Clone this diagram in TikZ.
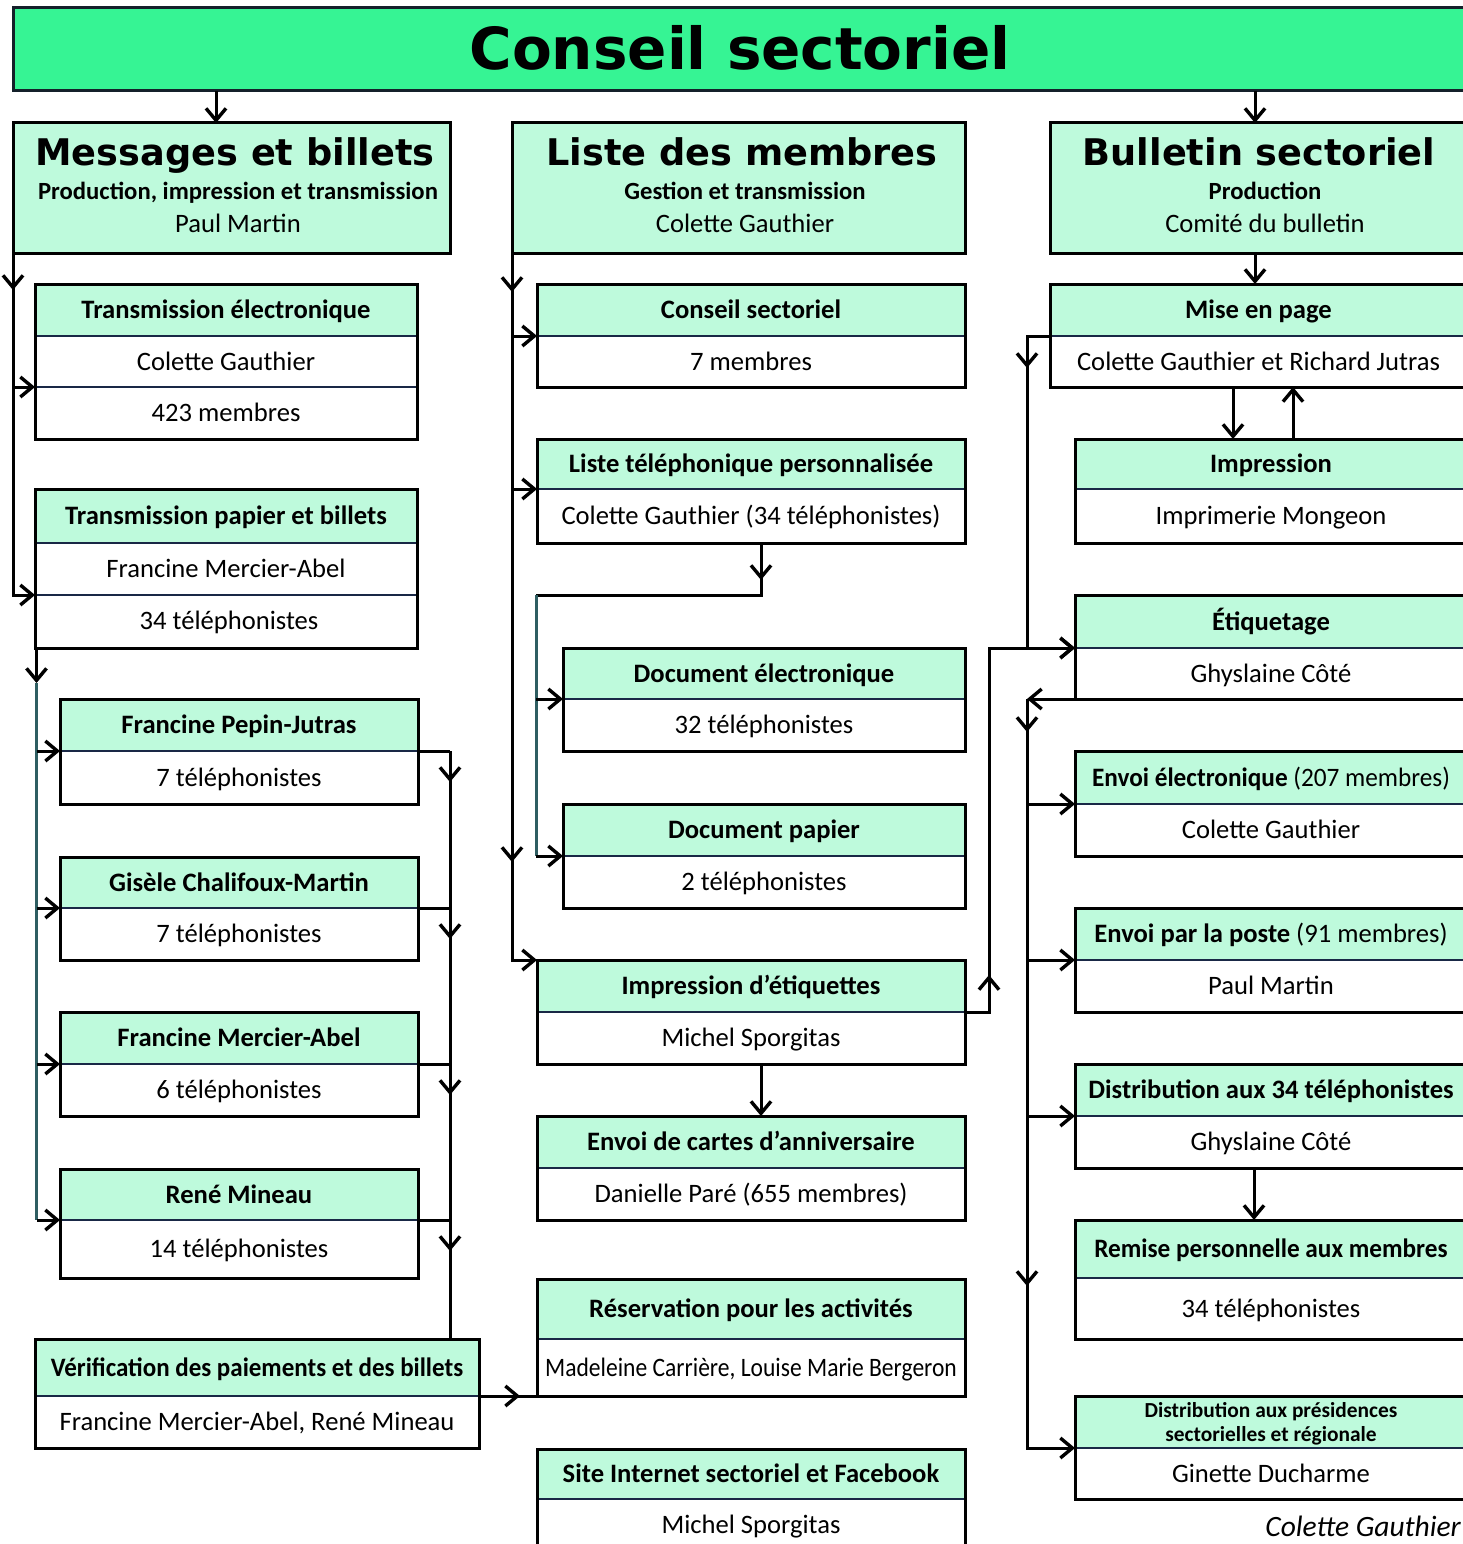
\documentclass[tikz,border=0pt]{standalone}
\usepackage{fontspec}
\setmainfont{Carlito}
\newfontfamily\verd{DejaVu Sans}
\usetikzlibrary{arrows.meta,calc}
\definecolor{mint}{RGB}{190,250,220}
\definecolor{tgreen}{RGB}{54,244,148}
\definecolor{navy}{RGB}{25,40,70}
\definecolor{tborder}{RGB}{20,32,42}
\definecolor{mteal}{RGB}{47,94,98}
\newcommand\hdfont{\fontsize{26.6}{30}\selectfont\bfseries}
\newcommand\bdfont{\fontsize{26.6}{30}\selectfont}
\tikzset{
  frame/.style={draw=black, line width=3pt, inner sep=0pt, outer sep=0pt},
  divl/.style={draw=navy, line width=1.2pt},
  hd/.style={font=\hdfont, text height=21.3pt, text depth=4.2pt, inner sep=0pt},
  bd/.style={font=\bdfont, text height=21.3pt, text depth=4.2pt, inner sep=0pt},
  sub/.style={font=\fontsize{24.7}{28}\selectfont\bfseries, text height=19.8pt, text depth=3.9pt, inner sep=0pt},
  big/.style={font=\verd\bfseries\fontsize{36.7}{40}\selectfont, text height=26.8pt, text depth=0pt, inner sep=0pt},
  ln/.style={line width=3pt},
  arr/.style={line width=3pt, -{Straight Barb[length=12pt,width=20pt,line width=3.4pt]}},
  tl/.style={draw=mteal, line width=3pt},
}
% name, x1, x2, ytop, ymid, ybot, header, body
\newcommand\mkbox[8]{%
  \fill[mint] (#2,-#4) rectangle (#3,-#5);
  \draw[divl] (#2,-#5) -- (#3,-#5);
  \node[frame, minimum width={(#3-#2)*1pt}, minimum height={(#6-#4)*1pt}, anchor=north west] (#1) at (#2,-#4) {};
  \coordinate (#1-d) at (#2,-#5);
  \coordinate (#1-dr) at (#3,-#5);
  \node[hd] (#1-h) at ({(#2+#3)/2},{-(#4+#5)/2}) {#7};
  \node[bd] (#1-b) at ({(#2+#3)/2},{-(#5+#6)/2}) {#8};
}
\begin{document}
\begin{tikzpicture}[x=1pt,y=1pt]
\useasboundingbox (0,0) rectangle (1463,-1544);
\clip (0,0) rectangle (1463,-1544);

% title
\node[draw=tborder, fill=tgreen, line width=3pt, inner sep=0pt, outer sep=0pt, minimum width=1454pt, minimum height=83pt, anchor=north west] (title) at (13,-8) {};
\node[font=\verd\bfseries\fontsize{58}{62}\selectfont, text height=42.3pt, text depth=0pt, inner sep=0pt] (titletxt) at (740,-48) {Conseil sectoriel};

% top boxes
\node[frame, fill=mint, minimum width=437pt, minimum height=130pt, anchor=north west] (msg) at (13,-123) {};
\node[big] (msg-t) at (235,-152) {Messages et billets};
\node[sub] (msg-s) at (238,-192) {Production, impression et transmission};
\node[bd] (msg-p) at (238,-224) {Paul Martin};

\node[frame, fill=mint, minimum width=453pt, minimum height=130pt, anchor=north west] (lm) at (512,-123) {};
\node[big] (lm-t) at (742,-152) {Liste des membres};
\node[sub] (lm-s) at (745,-192) {Gestion et transmission};
\node[bd] (lm-p) at (745,-224) {Colette Gauthier};

\node[frame, fill=mint, minimum width=417pt, minimum height=130pt, anchor=north west] (bs) at (1050,-123) {};
\node[big] (bs-t) at (1259,-152) {Bulletin sectoriel};
\node[sub] (bs-s) at (1265,-192) {Production};
\node[bd] (bs-p) at (1265,-224) {Comité du bulletin};

% left column
\mkbox{te}{35}{417}{284}{336}{439}{Transmission électronique}{}
\node[bd] (te-r1) at (226,-361.5) {Colette Gauthier};
\draw[divl] (36.5,-387) -- (415.5,-387);
\coordinate (te-d2) at (35,-387);
\node[bd] (te-r2) at (226,-413) {423 membres};

\mkbox{tp}{35}{417}{489}{543}{648}{Transmission papier et billets}{}
\node[bd] (tp-r1) at (226,-569) {Francine Mercier-Abel};
\draw[divl] (36.5,-595) -- (415.5,-595);
\coordinate (tp-d2) at (35,-595);
\node[bd] (tp-r2) at (229,-621) {34 téléphonistes};

\mkbox{fpj}{60}{418}{699}{751}{804}{Francine Pepin-Jutras}{7 téléphonistes}
\mkbox{gcm}{60}{418}{857}{908}{960}{Gisèle Chalifoux-Martin}{7 téléphonistes}
\mkbox{fma}{60}{418}{1012}{1064}{1116}{Francine Mercier-Abel}{6 téléphonistes}
\mkbox{rm}{60}{418}{1169}{1220}{1278}{René Mineau}{14 téléphonistes}
\mkbox{vr}{35}{479}{1339}{1396}{1448}{\scalebox{0.94}[1]{Vérification des paiements et des billets}}{Francine Mercier-Abel, René Mineau}

% middle column
\mkbox{cs}{537}{965}{284}{336}{387}{Conseil sectoriel}{7 membres}
\mkbox{lt}{537}{965}{439}{489}{543}{Liste téléphonique personnalisée}{Colette Gauthier (34 téléphonistes)}
\mkbox{de}{563}{965}{648}{699}{751}{Document électronique}{32 téléphonistes}
\mkbox{dp}{563}{965}{804}{856}{908}{Document papier}{2 téléphonistes}
\mkbox{ie}{537}{965}{960}{1012}{1064}{Impression d’étiquettes}{Michel Sporgitas}
\mkbox{ec}{537}{965}{1116}{1168}{1220}{Envoi de cartes d’anniversaire}{Danielle Paré (655 membres)}
\mkbox{res}{537}{965}{1279}{1339}{1396}{Réservation pour les activités}{\scalebox{0.885}[1]{Madeleine Carrière, Louise Marie Bergeron}}
\mkbox{site}{537}{965}{1449}{1499}{1552}{Site Internet sectoriel et Facebook}{}
\node[bd] (site-r1) at (751,-1525) {Michel Sporgitas};

% right column
\mkbox{mp}{1050}{1467}{284}{336}{387}{Mise en page}{Colette Gauthier et Richard Jutras}
\mkbox{imp}{1075}{1467}{439}{489}{543}{Impression}{Imprimerie Mongeon}
\mkbox{et}{1075}{1467}{595}{648}{699}{Étiquetage}{Ghyslaine Côté}
\mkbox{ee}{1075}{1467}{751}{804}{856}{\scalebox{0.95}[1]{Envoi électronique \normalfont(207 membres)}}{Colette Gauthier}
\mkbox{ep}{1075}{1467}{908}{960}{1012}{Envoi par la poste \normalfont(91 membres)}{Paul Martin}
\mkbox{d34}{1075}{1467}{1064}{1116}{1168}{Distribution aux 34 téléphonistes}{Ghyslaine Côté}
\mkbox{rp}{1075}{1467}{1220}{1278}{1339}{\scalebox{0.95}[1]{Remise personnelle aux membres}}{34 téléphonistes}
\mkbox{dpr}{1075}{1467}{1396}{1448}{1499}{}{Ginette Ducharme}
\node[font=\fontsize{21.4}{24}\selectfont\bfseries, align=center, inner sep=0pt] (dpr-t) at (1271,-1424) {Distribution aux présidences\\sectorielles et régionale};

\node[font=\fontsize{29.5}{32}\selectfont\itshape, anchor=base east, inner sep=0pt] (sig) at (1461,-1536) {Colette Gauthier};

% ---------- connectors ----------
\draw[arr] (216,0 |- title.south) -- (216,0 |- msg.north);
\draw[arr] (1255,0 |- title.south) -- (1255,0 |- bs.north);

% left bus
\draw[arr] (msg.south west) |- (tp-d2);
\draw[arr] (msg.south west) -- ++(0,-37);
\draw[arr] (msg.south west |- te-d2) -- (te-d2);

\coordinate (lb) at (36.5,0 |- tp.south);
\draw[arr] (lb) -- ++(0,-35);
\draw[tl] ([yshift=-35pt]lb) -- (lb |- rm-d);
\foreach \b in {fpj,gcm,fma,rm} \draw[arr] (lb |- \b-d) -- (\b-d);

\coordinate (rb) at (450,0);
\draw[ln] (rb |- fpj-dr) -- (rb |- vr.north);
\foreach \b in {fpj,gcm,fma,rm}{
  \draw[ln] (\b-dr) -- (rb |- \b-dr);
  \draw[arr] (rb |- \b-dr) -- ++(0,-31);
}
\draw[ln] (vr-dr) -- (res.south west);
\draw[arr] (vr-dr) -- ++(41,0);

% middle bus
\coordinate (mb) at (lm.south west);
\draw[arr] (mb) |- (ie.north west);
\draw[arr] (mb) -- ++(0,-39);
\draw[arr] (mb |- dp.north) -- ([yshift=-6pt]mb |- dp-d);
\draw[arr] (mb |- cs-d) -- (cs-d);
\draw[arr] (mb |- lt-d) -- (lt-d);

\coordinate (lo) at (761,0 |- lt.south);
\coordinate (dbus) at (536,-595);
\draw[ln] (lo) |- (dbus);
\draw[arr] (lo) -- ++(0,-37);
\draw[tl] (dbus) -- (dbus |- dp-d);
\draw[arr] (dbus |- de-d) -- (de-d);
\draw[arr] (dbus |- dp-d) -- (dp-d);

\coordinate (iu) at (989,0);
\draw[arr] (ie-dr) -| (iu |- et-d) -- (et-d);
\draw[arr] (iu |- ie-dr) -- ++(0,37);
\draw[arr] (761,0 |- ie.south) -- (761,0 |- ec.north);

% right bus
\draw[arr] (1255,0 |- bs.south) -- (1255,0 |- mp.north);
\coordinate (rr) at (1027,0);
\draw[arr] (mp-d) -| (rr |- et-d) -- (et-d);
\draw[arr] (rr |- mp-d) -- ++(0,-32);
\draw[arr] (1233,0 |- mp.south) -- (1233,0 |- imp.north);
\draw[arr] (1293,0 |- imp.north) -- (1293,0 |- mp.south);
\draw[arr] (et.south west) -- (rr |- et.south);
\draw[arr] (rr |- et.south) |- (dpr-d);
\draw[arr] (rr |- et.south) -- ++(0,-33);
\draw[arr] (rr |- rp.north) -- ++(0,-66);
\foreach \b in {ee,ep,d34} \draw[arr] (rr |- \b-d) -- (\b-d);
\draw[arr] (1254,0 |- d34.south) -- (1254,0 |- rp.north);
\end{tikzpicture}
\end{document}
